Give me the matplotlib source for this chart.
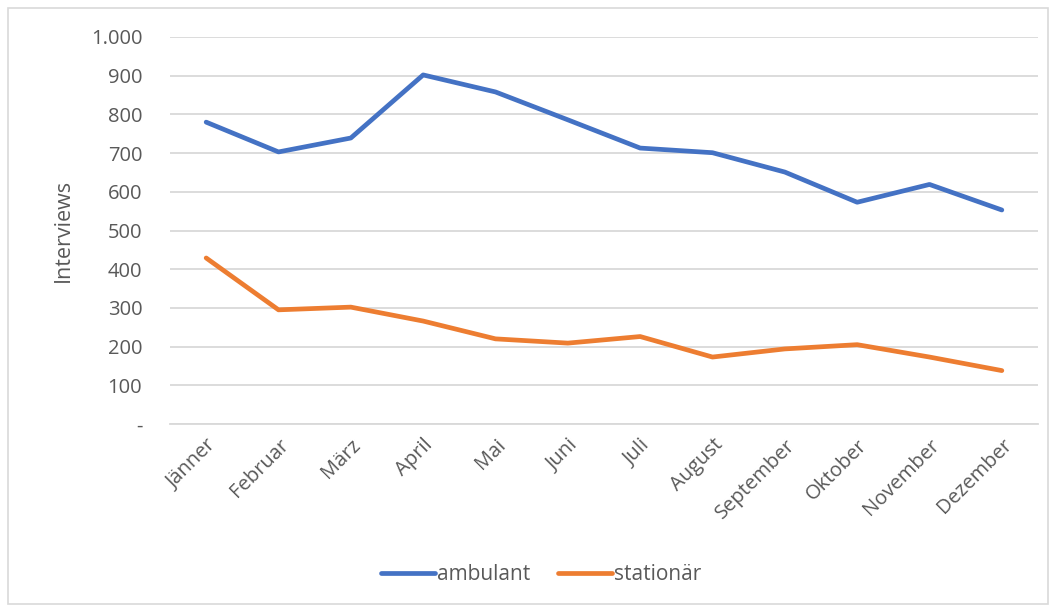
import matplotlib

matplotlib.use("Agg")
import matplotlib.pyplot as plt
from matplotlib.patches import Rectangle
from matplotlib.ticker import FuncFormatter

plt.rcParams["font.family"] = ["Open Sans", "DejaVu Sans"]

months = ["Jänner", "Februar", "März", "April", "Mai", "Juni", "Juli",
          "August", "September", "Oktober", "November", "Dezember"]
ambulant = [780, 703, 739, 902, 858, 786, 713, 701, 651, 573, 619, 553]
stationaer = [429, 295, 302, 266, 220, 209, 226, 173, 194, 205, 173, 138]

BLUE = "#4472C4"
ORANGE = "#ED7D31"
TEXT = "#595959"
GRID = "#D9D9D9"

fig = plt.figure(figsize=(10.56, 6.08), dpi=100)
ax = fig.add_axes([170 / 1056, 1 - 424 / 608, 868 / 1056, 387 / 608])

x = list(range(len(months)))
ax.plot(x, ambulant, color=BLUE, linewidth=3.4, solid_capstyle="round", label="ambulant")
ax.plot(x, stationaer, color=ORANGE, linewidth=3.4, solid_capstyle="round", label="stationär")

ax.set_xlim(-0.5, len(months) - 0.5)
ax.set_ylim(0, 1000)
ax.set_yticks(range(0, 1001, 100))


def fmt(value, _pos):
    if value == 0:
        return "-"
    return f"{int(value):,}".replace(",", ".")


ax.yaxis.set_major_formatter(FuncFormatter(fmt))
ax.set_xticks(x)
ax.set_xticklabels(months, rotation=45, ha="right", rotation_mode="anchor")
ax.tick_params(axis="both", length=0, colors=TEXT, labelsize=14.5)
ax.tick_params(axis="y", pad=20)
ax.tick_params(axis="x", pad=8)
ax.grid(axis="y", color=GRID, linewidth=1.3)
ax.set_axisbelow(True)
for side in ["top", "right", "left"]:
    ax.spines[side].set_visible(False)
ax.spines["bottom"].set_color(GRID)
ax.spines["bottom"].set_linewidth(1.3)

ax.set_ylabel("Interviews", color=TEXT, fontsize=15.5, labelpad=12)

fig.legend(loc="center", bbox_to_anchor=(541 / 1056, 1 - 575 / 608), ncol=2, frameon=False,
           fontsize=15, labelcolor=TEXT, handlelength=2.6, handletextpad=0.1,
           columnspacing=1.3)

fig.patches.append(Rectangle((8 / 1056, 4 / 608), 1040 / 1056, 596 / 608,
                             transform=fig.transFigure, fill=False,
                             edgecolor=GRID, linewidth=1.2))

fig.savefig("out.png", dpi=100)
